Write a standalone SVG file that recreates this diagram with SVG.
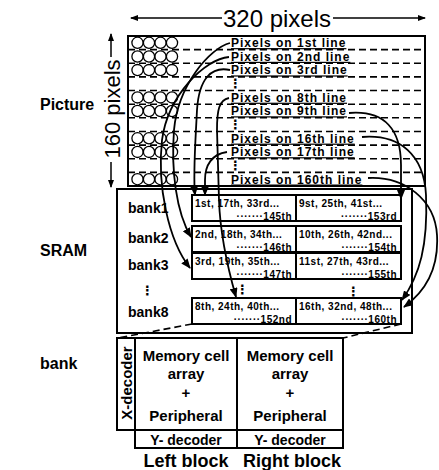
<svg xmlns="http://www.w3.org/2000/svg" width="439" height="470" viewBox="0 0 439 470">
<defs>
<style>
text{font-family:"Liberation Sans",Arial,Helvetica,sans-serif;font-weight:bold;fill:#000}
.lbl{font-size:16px}
.dim{font-size:24px;font-weight:normal}
.row{font-size:12px;letter-spacing:1px;text-decoration:underline}
.bk{font-size:14px}
.cell{font-size:10px;letter-spacing:0.5px}
.mc{font-size:15px;text-anchor:middle}
.yd{font-size:14px;text-anchor:middle}
.blk{font-size:18px;text-anchor:middle}
.sym{font-family:"DejaVu Sans",sans-serif;font-size:13px}
.box{fill:none;stroke:#000;stroke-width:2}
.dash{stroke:#000;stroke-width:1.6;stroke-dasharray:7 4;fill:none}
.pix{fill:none;stroke:#000;stroke-width:1.3}
.con{fill:none;stroke:#000;stroke-width:1.8}
</style>
<marker id="ah" markerWidth="10" markerHeight="8" refX="9" refY="4" orient="auto" markerUnits="userSpaceOnUse"><path d="M0,0 L10,4 L0,8 z" fill="#000"/></marker>
<marker id="ahs" markerWidth="8" markerHeight="6" refX="7" refY="3" orient="auto" markerUnits="userSpaceOnUse"><path d="M0,0 L8,3 L0,6 z" fill="#000"/></marker>
<g id="pxrow"><circle cx="137.5" cy="0" r="5.6" class="pix"/><circle cx="149" cy="0" r="5.6" class="pix"/><circle cx="160.5" cy="0" r="5.6" class="pix"/><circle cx="172" cy="0" r="5.6" class="pix"/></g>
</defs>
<rect width="439" height="470" fill="#fff"/>

<g id="labels">
<text class="lbl" x="40" y="110">Picture</text>
<text class="lbl" x="40" y="256">SRAM</text>
<text class="lbl" x="40" y="369">bank</text>
</g>

<g id="dimensions">
<line x1="222" y1="18" x2="131" y2="18" stroke="#000" stroke-width="1.5" marker-end="url(#ahs)"/>
<line x1="333" y1="18" x2="425" y2="18" stroke="#000" stroke-width="1.5" marker-end="url(#ahs)"/>
<text class="dim" x="277" y="27" text-anchor="middle">320 pixels</text>
<line x1="111" y1="57" x2="111" y2="34" stroke="#000" stroke-width="1.5" marker-end="url(#ahs)"/>
<line x1="111" y1="162" x2="111" y2="187" stroke="#000" stroke-width="1.5" marker-end="url(#ahs)"/>
<text class="dim" font-size="22" x="0" y="0" text-anchor="middle" transform="translate(120,109) rotate(-90)" style="font-size:22px">160 pixels</text>
</g>

<g id="picture">
<rect x="128" y="36" width="297" height="150" class="box"/>
<line x1="128" x2="425" y1="49.6" y2="49.6" class="dash"/>
<line x1="128" x2="425" y1="63.3" y2="63.3" class="dash"/>
<line x1="128" x2="425" y1="76.9" y2="76.9" class="dash"/>
<line x1="128" x2="425" y1="90.5" y2="90.5" class="dash"/>
<line x1="128" x2="425" y1="104.2" y2="104.2" class="dash"/>
<line x1="128" x2="425" y1="117.8" y2="117.8" class="dash"/>
<line x1="128" x2="425" y1="131.5" y2="131.5" class="dash"/>
<line x1="128" x2="425" y1="145.1" y2="145.1" class="dash"/>
<line x1="128" x2="425" y1="158.7" y2="158.7" class="dash"/>
<line x1="128" x2="425" y1="172.4" y2="172.4" class="dash"/>
<use href="#pxrow" y="42.8"/>
<use href="#pxrow" y="56.5"/>
<use href="#pxrow" y="70.1"/>
<use href="#pxrow" y="97.4"/>
<use href="#pxrow" y="111"/>
<use href="#pxrow" y="138.3"/>
<use href="#pxrow" y="151.9"/>
<use href="#pxrow" y="179.2"/>
<text class="row" x="231" y="47.1">Pixels on 1st line</text>
<text class="row" x="231" y="60.8">Pixels on 2nd line</text>
<text class="row" x="231" y="74.4">Pixels on 3rd line</text>
<text class="sym" x="229" y="88">⋮</text>
<text class="row" x="231" y="101.7">Pixels on 8th line</text>
<text class="row" x="231" y="115.3">Pixels on 9th line</text>
<text class="sym" x="229" y="129">⋮</text>
<text class="row" x="231" y="142.6">Pixels on 16th line</text>
<text class="row" x="231" y="156.2">Pixels on 17th line</text>
<text class="sym" x="229" y="169.9">⋮</text>
<text class="row" x="231" y="183.5">Pixels on 160th line</text>
</g>

<g id="sram">
<rect x="117" y="189" width="295" height="144" class="box"/>
<text class="bk" x="128" y="213">bank1</text>
<text class="bk" x="128" y="243">bank2</text>
<text class="bk" x="128" y="270">bank3</text>
<text class="sym" x="141" y="295">⋮</text>
<text class="bk" x="128" y="317">bank8</text>
</g>

<g id="bank1">
<rect x="192" y="195" width="104" height="26" class="box"/>
<rect x="296" y="195" width="105" height="26" class="box"/>
<text class="cell" x="195" y="207">1st, 17th, 33rd...</text>
<text class="cell" x="292" y="220" text-anchor="end">·······145th</text>
<text class="cell" x="299" y="207">9st, 25th, 41st...</text>
<text class="cell" x="397" y="220" text-anchor="end">·······153rd</text>
</g>
<g id="bank2">
<rect x="192" y="226" width="104" height="26" class="box"/>
<rect x="296" y="226" width="105" height="26" class="box"/>
<text class="cell" x="195" y="238">2nd, 18th, 34th...</text>
<text class="cell" x="292" y="251" text-anchor="end">·······146th</text>
<text class="cell" x="299" y="238">10th, 26th, 42nd...</text>
<text class="cell" x="397" y="251" text-anchor="end">·······154th</text>
</g>
<g id="bank3">
<rect x="192" y="253" width="104" height="26" class="box"/>
<rect x="296" y="253" width="105" height="26" class="box"/>
<text class="cell" x="195" y="265">3rd, 19th, 35th...</text>
<text class="cell" x="292" y="278" text-anchor="end">·······147th</text>
<text class="cell" x="299" y="265">11st, 27th, 43rd...</text>
<text class="cell" x="397" y="278" text-anchor="end">·······155th</text>
<text class="sym" x="236" y="294">⋮</text>
<text class="sym" x="347" y="296">⋮</text>
</g>
<g id="bank8">
<rect x="192" y="298" width="104" height="26" class="box"/>
<rect x="296" y="298" width="105" height="26" class="box"/>
<text class="cell" x="195" y="310">8th, 24th, 40th...</text>
<text class="cell" x="292" y="323" text-anchor="end">·······152nd</text>
<text class="cell" x="299" y="310">16th, 32nd, 48th...</text>
<text class="cell" x="397" y="323" text-anchor="end">·······160th</text>
</g>

<g id="bankdetail">
<rect x="117" y="338" width="18" height="92" class="box"/>
<rect x="135" y="338" width="102" height="92" class="box"/>
<rect x="237" y="338" width="106" height="92" class="box"/>
<rect x="135" y="430" width="102" height="18" class="box"/>
<rect x="237" y="430" width="106" height="18" class="box"/>
<text x="0" y="0" text-anchor="middle" transform="translate(132,383) rotate(-90)" style="font-size:15px">X-decoder</text>
<text class="mc" x="186" y="361">Memory cell</text>
<text class="mc" x="186" y="379">array</text>
<text class="mc" x="186" y="398">+</text>
<text class="mc" x="186" y="421">Peripheral</text>
<text class="mc" x="290" y="361">Memory cell</text>
<text class="mc" x="290" y="379">array</text>
<text class="mc" x="290" y="398">+</text>
<text class="mc" x="290" y="421">Peripheral</text>
<text class="yd" x="186" y="445">Y- decoder</text>
<text class="yd" x="290" y="445">Y- decoder</text>
<text class="blk" x="186" y="467">Left block</text>
<text class="blk" x="292" y="467">Right block</text>
</g>

<g id="connectors">
<path class="con" d="M230,43 C210,48 178,85 174,130 C171,170 176,212 191,237" marker-end="url(#ah)"/>
<path class="con" d="M229,57 C205,59 168,95 162,140 C157,185 168,240 190,268" marker-end="url(#ah)"/>
<path class="con" d="M230,70 C212,66 199,78 197,110 C195,150 193,175 195,195" marker-end="url(#ah)"/>
<path class="con" d="M229,98 C219,100 217,110 217,130 L219,200 C220,230 226,262 236,297" marker-end="url(#ah)"/>
<path class="con" d="M227,152 C212,154 205,165 205,180 L205,195" marker-end="url(#ah)"/>
<path class="con" d="M349,113 C385,110 401,130 401,165 L401,199" marker-end="url(#ah)"/>
<path class="con" d="M362,137 C400,134 424,155 426,195 C428,245 420,275 402,300" marker-end="url(#ah)"/>
<path class="con" d="M368,178 C405,176 435,200 437,235 C439,270 425,292 404,307" marker-end="url(#ah)"/>
<line class="dash" x1="192" y1="324" x2="118" y2="338"/>
<line class="dash" x1="401" y1="324" x2="343" y2="338"/>
</g>
</svg>
